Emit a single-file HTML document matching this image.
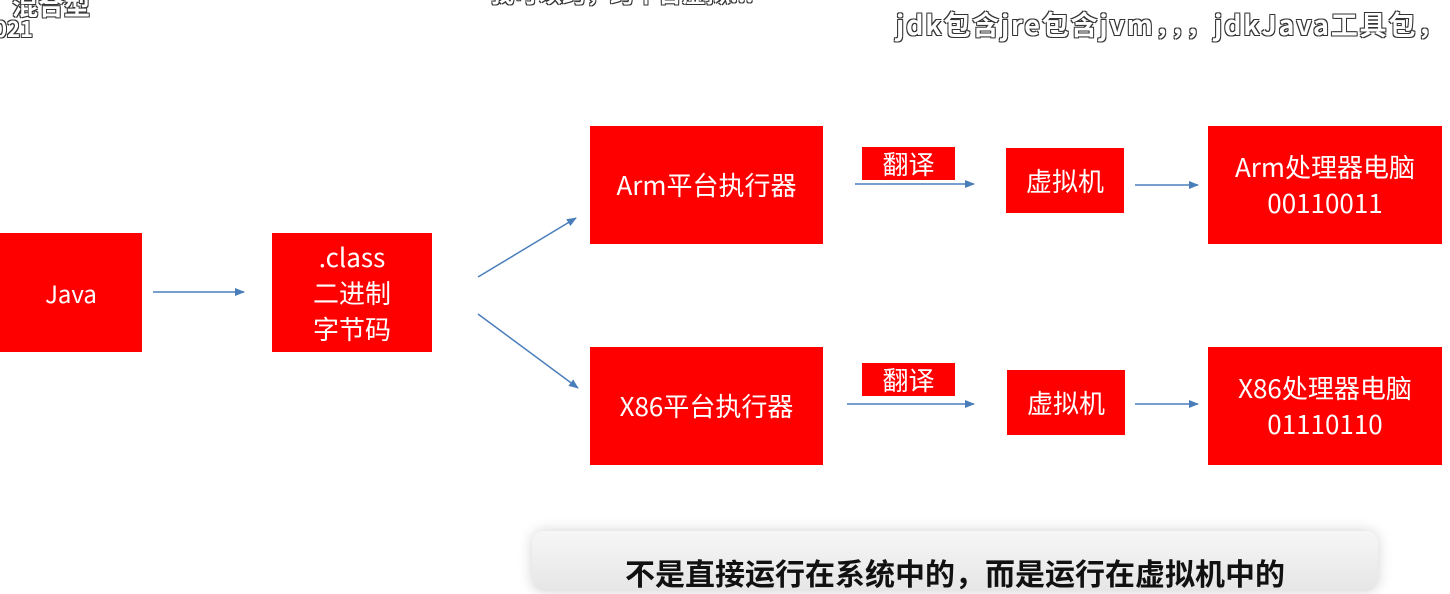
<!DOCTYPE html>
<html><head><meta charset="utf-8"><style>
body{margin:0;width:1450px;height:567px;background:#fff;position:relative;overflow:hidden;font-family:"Noto Sans CJK SC","Liberation Sans",sans-serif}
.b{position:absolute;background:#f00;color:#fff;display:flex;align-items:center;justify-content:center;text-align:center;font-size:26px;line-height:36px;font-family:"Noto Sans CJK SC",sans-serif}
.t{position:absolute;font-weight:bold;color:#fff;text-shadow:-1px -1px 0 #333,1px -1px 0 #333,-1px 1px 0 #333,1px 1px 0 #333;font-size:26px;white-space:nowrap}
</style></head><body>
<div class="t" style="left:12px;top:-14px;font-size:26px">混合型</div>
<div class="t" style="left:-6px;top:12px;font-size:22px">021</div>
<div class="t" style="left:490px;top:-26px;font-size:24px">我可以跨，跨平台虚拟...</div>
<div class="t" style="left:896px;top:4px;font-size:27px;letter-spacing:1.8px">jdk包含jre包含jvm，，，jdkJava工具包，</div>
<div class="b" style="left:0;top:233px;width:142px;height:119px;font-size:24px">Java</div>
<div class="b" style="left:272px;top:233px;width:160px;height:119px">.class<br>二进制<br>字节码</div>
<div class="b" style="left:590px;top:126px;width:233px;height:118px">Arm平台执行器</div>
<div class="b" style="left:590px;top:347px;width:233px;height:118px">X86平台执行器</div>
<div class="b" style="left:862px;top:147px;width:93px;height:33px">翻译</div>
<div class="b" style="left:862px;top:363px;width:93px;height:33px">翻译</div>
<div class="b" style="left:1006px;top:148px;width:118px;height:65px">虚拟机</div>
<div class="b" style="left:1007px;top:370px;width:118px;height:65px">虚拟机</div>
<div class="b" style="left:1208px;top:126px;width:234px;height:118px">Arm处理器电脑<br>00110011</div>
<div class="b" style="left:1208px;top:347px;width:234px;height:118px">X86处理器电脑<br>01110110</div>
<svg style="position:absolute;left:0;top:0" width="1450" height="567">
<defs><marker id="a" markerWidth="10" markerHeight="8" refX="9" refY="4" orient="auto" markerUnits="userSpaceOnUse"><path d="M0,0L10,4L0,8z" fill="#4a7ebb"/></marker></defs>
<g stroke="#4a7ebb" stroke-width="1.5" marker-end="url(#a)">
<line x1="153" y1="292" x2="244" y2="292"/>
<line x1="478" y1="277" x2="576" y2="218"/>
<line x1="478" y1="314" x2="578" y2="388"/>
<line x1="855" y1="184" x2="974" y2="184"/>
<line x1="847" y1="404" x2="974" y2="404"/>
<line x1="1135" y1="185" x2="1198" y2="185"/>
<line x1="1135" y1="404" x2="1198" y2="404"/>
</g></svg>
<div style="position:absolute;left:532px;top:531px;width:846px;height:60px;border-radius:12px;background:linear-gradient(#f6f6f6,#e6e6e6);box-shadow:0 0 14px rgba(0,0,0,0.18)"></div>
<div style="position:absolute;left:532px;top:552px;width:846px;text-align:center;font-size:30px;line-height:40px;font-weight:bold;color:#111;white-space:nowrap">不是直接运行在系统中的，而是运行在虚拟机中的</div>
</body></html>
